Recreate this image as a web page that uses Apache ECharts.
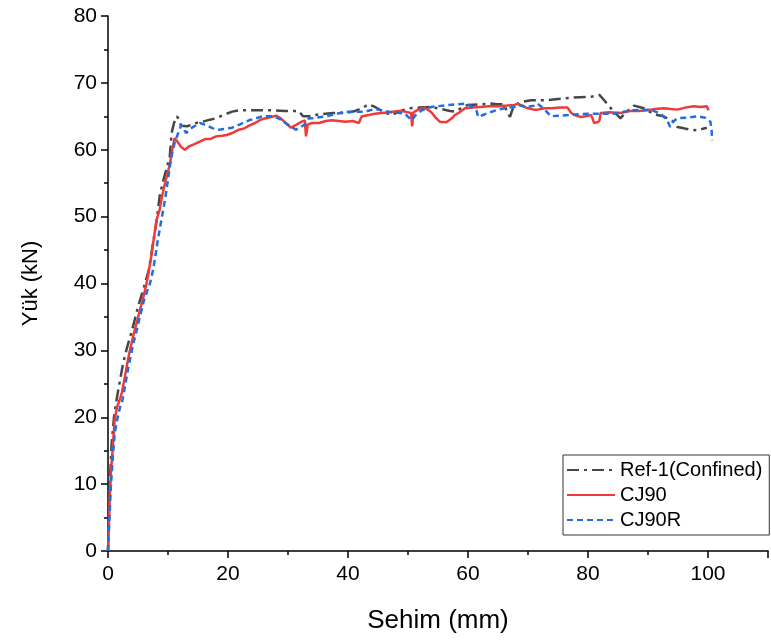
<!DOCTYPE html>
<html>
<head>
<meta charset="utf-8">
<script src="https://cdn.jsdelivr.net/npm/echarts@6/dist/echarts.min.js"></script>
<style>html,body{margin:0;padding:0;background:#fff;}#c{width:771px;height:643px;}</style>
</head>
<body>
<div id="c"></div>
<script>
const seriesNames = ['Ref-1(Confined)', 'CJ90', 'CJ90R'];
const xAxisTitle = 'Sehim (mm)';
const yAxisTitle = 'Yük (kN)';
const xTicks = [0, 20, 40, 60, 80, 100];
const yTicks = [0, 10, 20, 30, 40, 50, 60, 70, 80];

const ref1 = [[0,0],[0.3,10],[0.6,16],[1.0,20],[1.5,23],[2.0,25.5],[2.5,28],[3.2,30.5],[4.0,33],[5.0,36.5],[6.0,39.5],[6.8,42],[7.5,46],[8.2,50],[8.6,53],[9.1,55],[9.7,57],[10.3,59],[10.6,62.5],[11.0,64],[11.5,65],[11.7,64.7],[12.2,63.6],[13.2,63.5],[14.0,63.8],[14.7,64],[15.8,64.2],[17.0,64.5],[18.0,64.7],[19.5,65.3],[20.7,65.7],[21.9,65.9],[24.0,65.9],[27,65.9],[29.5,65.8],[31.8,65.8],[32.5,65.0],[33.5,65.0],[35.2,65.3],[37.5,65.5],[39.6,65.5],[41.2,65.8],[42.5,66.3],[43.4,66.8],[44.5,66.4],[46.0,65.6],[47.3,65.2],[48.8,65.8],[50.1,66.2],[52.0,66.3],[53.9,66.4],[55.5,66.1],[57.0,65.8],[57.8,65.7],[59.0,66.3],[60.0,66.7],[62.0,66.8],[63.9,66.9],[64.7,66.8],[66.0,66.8],[66.6,65.5],[67.0,64.9],[67.4,66.0],[68.3,66.9],[69.3,67.2],[70.5,67.4],[71.6,67.4],[73.0,67.4],[75.0,67.6],[77.5,67.8],[80.4,67.9],[81.9,68.2],[82.7,67.4],[84.0,66.0],[85.4,64.7],[86.3,65.6],[87.7,66.6],[89.3,66.2],[91.0,65.3],[92.6,65.0],[94.3,64.2],[94.9,63.4],[96.0,63.2],[97.0,63.0],[98.2,62.9],[99.0,63.1],[99.8,63.3]];

const cj90 = [[0,0],[0.3,8],[0.5,12],[0.8,15.5],[1.1,19.5],[1.5,21.5],[1.9,22.5],[2.3,23.6],[2.8,26],[3.3,28.5],[3.7,30.2],[4.3,32.5],[4.8,34.2],[5.4,36.3],[5.9,38],[6.3,39.5],[6.7,41.3],[7.2,44],[7.6,46.5],[8.1,49.5],[8.6,51],[9.0,53],[9.5,55],[10.3,57.8],[10.7,60],[11.1,61.7],[11.6,61.2],[12.2,60.4],[12.8,60.0],[13.5,60.5],[14.3,60.8],[15.3,61.2],[16.2,61.6],[17.0,61.6],[18.0,62.0],[19.0,62.1],[19.8,62.2],[20.7,62.5],[21.8,63.0],[22.7,63.2],[23.5,63.6],[24.5,64.0],[25.5,64.5],[26.3,64.7],[27.2,64.9],[28.0,65.1],[28.8,64.7],[29.6,64.0],[30.5,63.3],[31.3,63.7],[32.3,64.2],[32.8,64.4],[33.0,62.0],[33.3,63.8],[34.0,64.0],[35.2,64.0],[36.3,64.3],[37.3,64.4],[38.5,64.3],[39.6,64.2],[40.8,64.3],[41.8,64.0],[42.3,65.0],[43.5,65.2],[44.5,65.4],[45.6,65.5],[47.0,65.6],[48.4,65.8],[49.5,65.7],[50.5,65.5],[50.7,63.5],[50.9,65.6],[51.7,66.0],[52.8,66.3],[53.9,65.6],[54.6,64.8],[55.3,64.2],[56.4,64.1],[57.3,64.7],[57.8,65.2],[58.6,65.6],[59.5,66.2],[60.8,66.3],[62.0,66.4],[63.5,66.5],[65.0,66.5],[66.5,66.6],[67.8,66.7],[68.3,66.9],[69.2,66.5],[70.0,66.2],[71.0,66.0],[71.6,66.0],[72.8,66.2],[74.0,66.2],[75.3,66.3],[76.6,66.3],[77.2,65.5],[78.0,65.1],[78.8,64.9],[79.6,65.0],[80.5,65.2],[80.8,64.6],[81.0,64.0],[81.5,64.1],[81.9,64.3],[82.1,65.5],[83.5,65.6],[85.4,65.5],[87.0,65.8],[88.5,65.8],[89.9,65.9],[91.2,66.1],[92.6,66.2],[93.8,66.1],[94.9,66.0],[96.2,66.3],[97.6,66.5],[98.8,66.4],[99.8,66.5],[100.1,65.9]];

const cj90r = [[0,0],[0.3,6],[0.5,10],[0.8,14],[1.1,17.5],[1.5,19.5],[2.0,21.5],[2.4,22.5],[2.8,24.5],[3.4,27.5],[4.2,31],[4.8,33],[5.3,35],[6.0,37.5],[7.0,40],[7.5,42],[7.8,43.5],[8.3,46.5],[8.9,49.5],[9.5,52.5],[10.0,55.5],[10.3,57.5],[10.7,59.5],[11.1,61],[11.7,62.5],[12.2,63.7],[12.6,63.2],[13.0,62.5],[14.0,63.3],[15.3,64.0],[16.0,63.8],[17.5,63.2],[18.5,63.0],[20.7,63.3],[22.0,63.8],[23.5,64.4],[25.8,65.0],[27.7,65.0],[28.8,64.5],[29.6,64.0],[31.3,63.0],[32.7,63.7],[33.5,64.7],[34.0,64.7],[36.3,65.0],[37.3,65.2],[39.6,65.7],[42.9,65.7],[44.5,66.1],[46.8,65.7],[49.5,65.4],[50.6,64.4],[51.3,65.2],[52.3,65.9],[53.9,66.4],[56.7,66.7],[59.7,66.9],[60.5,66.5],[61.4,65.9],[61.7,64.9],[62.5,65.2],[63.3,65.5],[65.0,66.0],[66.5,66.3],[67.8,66.4],[68.3,66.7],[70.0,66.4],[71.0,66.6],[71.6,66.9],[72.8,66.0],[73.8,65.0],[75.0,65.1],[77.2,65.2],[79.9,65.4],[82.1,65.4],[84.4,65.4],[86.0,65.7],[87.7,65.9],[90.4,66.0],[92.1,65.4],[93.2,64.4],[93.7,63.4],[94.2,64.2],[94.9,64.7],[96.5,64.8],[98.2,65.0],[99.5,64.8],[100.4,64.2],[100.6,63],[100.7,61.4]];

const FONT = '"Liberation Sans", Arial, sans-serif';
const chart = echarts.init(document.getElementById('c'), null, {renderer: 'canvas'});
const axisCommon = {
  axisLine: {show: true, onZero: false, lineStyle: {color: '#000', width: 1.5}},
  axisTick: {show: true, inside: false, length: 7, lineStyle: {color: '#000', width: 1.5}},
  minorTick: {show: true, splitNumber: 2, length: 4, lineStyle: {color: '#000', width: 1.5}},
  splitLine: {show: false}
};
chart.setOption({
  animation: false,
  backgroundColor: '#fff',
  grid: {left: 108, right: 2, top: 16, bottom: 92, containLabel: false},
  xAxis: Object.assign({}, axisCommon, {
    type: 'value', min: 0, max: 110, interval: 20,
    name: xAxisTitle, nameLocation: 'middle', nameGap: 57,
    nameTextStyle: {fontFamily: FONT, fontSize: 26, color: '#000'},
    axisLabel: {fontFamily: FONT, fontSize: 21, color: '#000', margin: 13,
      formatter: v => xTicks.indexOf(v) >= 0 ? String(v) : ''}
  }),
  yAxis: Object.assign({}, axisCommon, {
    type: 'value', min: 0, max: 80, interval: 10,
    name: yAxisTitle, nameLocation: 'middle', nameGap: 66,
    nameTextStyle: {fontFamily: FONT, fontSize: 22, color: '#000'},
    axisLabel: {fontFamily: FONT, fontSize: 21, color: '#000', margin: 11,
      formatter: v => yTicks.indexOf(v) >= 0 ? String(v) : ''}
  }),
  legend: {
    orient: 'vertical', left: 563, top: 455, width: 206,
    padding: [5, 7, 5, 3], itemGap: 5, itemWidth: 48, itemHeight: 14,
    borderColor: '#333', borderWidth: 1, backgroundColor: '#fff',
    itemStyle: {color: 'rgba(0,0,0,0)', borderWidth: 0},
    textStyle: {fontFamily: FONT, fontSize: 20, color: '#000', padding: [0, 0, 0, 0]},
    data: seriesNames
  },
  series: [
    {name: seriesNames[0], type: 'line', data: ref1, symbol: 'none', z: 2,
      lineStyle: {color: '#464646', width: 2.5, type: [12, 5, 3, 5]}, itemStyle: {color: '#464646'}},
    {name: seriesNames[1], type: 'line', data: cj90, symbol: 'none', z: 3,
      lineStyle: {color: '#f03a3a', width: 2.5}, itemStyle: {color: '#f03a3a'}},
    {name: seriesNames[2], type: 'line', data: cj90r, symbol: 'none', z: 4,
      lineStyle: {color: '#1f6fe0', width: 2.5, type: [6, 4]}, itemStyle: {color: '#1f6fe0'}}
  ]
});
</script>
</body>
</html>
